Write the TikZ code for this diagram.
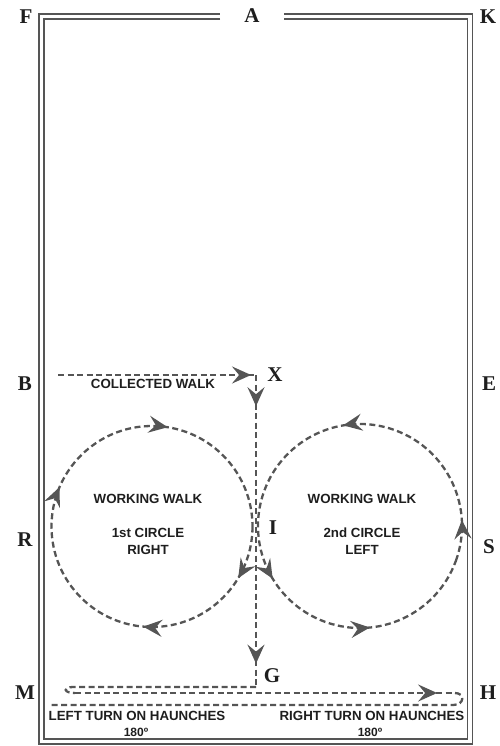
\documentclass[tikz,border=0pt]{standalone}
\usepackage{fontspec}
\setmainfont{Liberation Serif}
\setsansfont{Liberation Sans}
\usetikzlibrary{arrows.meta,decorations.markings}
\definecolor{walkgray}{RGB}{85,85,85}
\definecolor{lettergray}{RGB}{30,30,30}

\begin{document}
\begin{tikzpicture}[x=1pt, y=-1pt, >=Stealth, thick]
	\tikzstyle{letter} = [text=lettergray, font=\fontsize{21}{21}\bfseries\selectfont, inner sep=0pt]
	\tikzstyle{lbl} = [text=lettergray, font=\sffamily\bfseries\fontsize{13.3}{14}\selectfont, inner sep=0pt]
	\tikzstyle{walk} = [draw=walkgray, line width=2.3pt, dash pattern=on 6pt off 3.5pt]
	\tikzstyle{wall} = [draw=walkgray, line width=1.6pt, double=white, double distance=3.2pt]
	\tikzset{walktip/.tip={Stealth[length=19pt, width=17pt, inset=7pt, color=walkgray]},
		tip at/.style={postaction={decorate, decoration={markings, mark=at position #1 with {\arrow{walktip}}}}}}
	\useasboundingbox (0,0) rectangle (500,746);
	% arena wall, open at A
	\draw[wall] (220,16.5) -- (41.5,16.5) -- (41.5,741.5) -- (470,741.5) -- (470,16.5) -- (284,16.5);
	% letters
	\node (F) [letter] at (26,17) {F};
	\node (A) [letter] at (252,16) {A};
	\node (K) [letter] at (488,17) {K};
	\node (B) [letter] at (25,384) {B};
	\node (E) [letter] at (489,384) {E};
	\node (R) [letter] at (25,540) {R};
	\node (S) [letter] at (489,547) {S};
	\node (M) [letter] at (25,693) {M};
	\node (H) [letter] at (488,693) {H};
	\node (X) [letter] at (275,375) {X};
	\node (I) [letter] at (273,528) {I};
	\node (G) [letter] at (272,676) {G};
	% walk points
	\coordinate (cw) at (58,375);
	\coordinate (xc) at (256,375);
	\coordinate (gc) at (256,687);
	\coordinate (lta) at (73,687);
	\coordinate (ltb) at (75,693);
	\coordinate (rta) at (455,693);
	\coordinate (rtb) at (453,705);
	\coordinate (endw) at (51,705);
	\coordinate (c1) at (152,526.5);
	\coordinate (c2) at (360,526);
	% collected walk and centre line
	\draw[walk, tip at=0.975] (cw) -- (xc);
	\draw[walk, tip at=0.1, tip at=0.925] (xc) -- (gc);
	% circles
	\draw[walk, tip at=0.086, tip at=0.264, tip at=0.564, tip at=0.775] (c1) circle[radius=100.5];
	\draw[walk, tip at=0.065, tip at=0.332, tip at=0.642, tip at=0.821] (c2) ++(20:102) arc[start angle=20, end angle=-340, radius=102];
	% turns on haunches
	\draw[walk] (gc) -- (lta) .. controls (63,687) and (63,693) .. (ltb);
	\draw[walk, tip at=0.953] (ltb) -- (rta);
	\draw[walk] (rta) .. controls (465,693) and (465,705) .. (rtb) -- (endw);
	% texts
	\node (cwalk) [lbl] at (153,384) {COLLECTED WALK};
	\node (ww1) [lbl] at (148,499) {WORKING WALK};
	\node (c1st) [lbl] at (148,533) {1st CIRCLE};
	\node (c1dir) [lbl] at (148,549.5) {RIGHT};
	\node (ww2) [lbl] at (362,499) {WORKING WALK};
	\node (c2nd) [lbl] at (362,533) {2nd CIRCLE};
	\node (c2dir) [lbl] at (362,549.5) {LEFT};
	\node (lturn) [lbl] at (137,716) {LEFT TURN ON HAUNCHES};
	\node (ldeg) [lbl, font=\sffamily\bfseries\fontsize{12}{12}\selectfont] at (136,732) {180º};
	\node (rturn) [lbl] at (372,716) {RIGHT TURN ON HAUNCHES};
	\node (rdeg) [lbl, font=\sffamily\bfseries\fontsize{12}{12}\selectfont] at (370,732) {180º};
\end{tikzpicture}
\end{document}
